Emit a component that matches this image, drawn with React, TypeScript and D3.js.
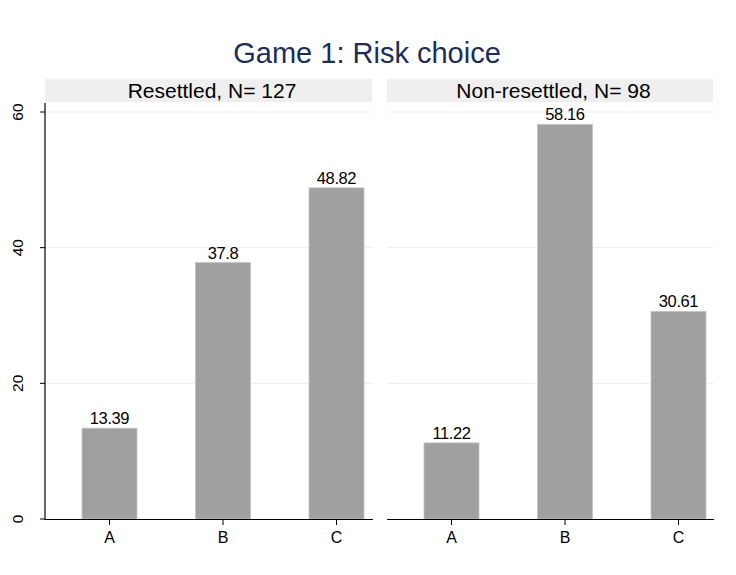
import React from "react";
import * as d3 from "d3";

const categories = ["A", "B", "C"];
const panelTitles = ["Resettled, N= 127", "Non-resettled, N= 98"];
const resettledValues = [13.39, 37.8, 48.82];
const nonResettledValues = [11.22, 58.16, 30.61];
const valueLabels = [["13.39", "37.8", "48.82"], ["11.22", "58.16", "30.61"]];
const yTicks = [0, 20, 40, 60];
const title = "Game 1: Risk choice";

const W = 736;
const H = 575;
const FONT = "'Liberation Sans', Arial, Helvetica, sans-serif";

export default function App() {
  const y = d3.scaleLinear().domain([0, 60]).range([519, 112]);
  const panels = [
    { left: 45, right: 373, values: resettledValues, labels: valueLabels[0], title: panelTitles[0], yAxis: true },
    { left: 387, right: 714, values: nonResettledValues, labels: valueLabels[1], title: panelTitles[1], yAxis: false },
  ];
  const barW = 55;
  return (
    <svg width={W} height={H} style={{ position: "absolute", left: 0, top: 0, background: "#fff" }} fontFamily={FONT}>
      <rect x={0} y={0} width={W} height={H} fill="#fff" />
      <text x={367} y={62.5} textAnchor="middle" fontSize={29} fill="#1c2d5a">{title}</text>
      {panels.map((p, pi) => {
        const x = d3.scalePoint<string>().domain(categories).range([p.left + 64.5, p.left + 291.5]);
        return (
          <g key={pi}>
            <rect x={p.left} y={79} width={p.right - p.left - 1} height={23} fill="#efefef" />
            <text x={(p.left + p.right) / 2 + 3} y={98} textAnchor="middle" fontSize={21} fill="#000">{p.title}</text>
            {yTicks.filter((t) => t > 0).map((t) => (
              <line key={t} x1={p.left} x2={p.right} y1={y(t)} y2={y(t)} stroke="#e8f0f1" strokeWidth={1} />
            ))}
            {p.values.map((v, i) => (
              <g key={i}>
                <rect x={(x(categories[i]) as number) - barW / 2} y={y(v)} width={barW} height={y(0) - y(v)} fill="#a0a0a0" stroke="#c4c4c4" strokeWidth={0.8} />
                <text x={x(categories[i]) as number} y={y(v) - 4} textAnchor="middle" fontSize={16.5} letterSpacing={-0.4} fill="#000">{p.labels[i]}</text>
              </g>
            ))}
            <line x1={p.left} x2={p.right} y1={519.5} y2={519.5} stroke="#000" strokeWidth={1.2} />
            {categories.map((c) => (
              <g key={c}>
                <line x1={x(c) as number} x2={x(c) as number} y1={519.5} y2={525} stroke="#000" strokeWidth={1} />
                <text x={x(c) as number} y={542.5} textAnchor="middle" fontSize={16} fill="#000">{c}</text>
              </g>
            ))}
            {p.yAxis && (
              <g>
                <line x1={p.left} x2={p.left} y1={103} y2={520} stroke="#000" strokeWidth={1.2} />
                {yTicks.map((t) => (
                  <g key={t}>
                    <line x1={40} x2={p.left} y1={y(t)} y2={y(t)} stroke="#000" strokeWidth={1} />
                    <text transform={`translate(22.5,${y(t)}) rotate(-90)`} textAnchor="middle" fontSize={15.5} fill="#000">{t}</text>
                  </g>
                ))}
              </g>
            )}
          </g>
        );
      })}
    </svg>
  );
}
